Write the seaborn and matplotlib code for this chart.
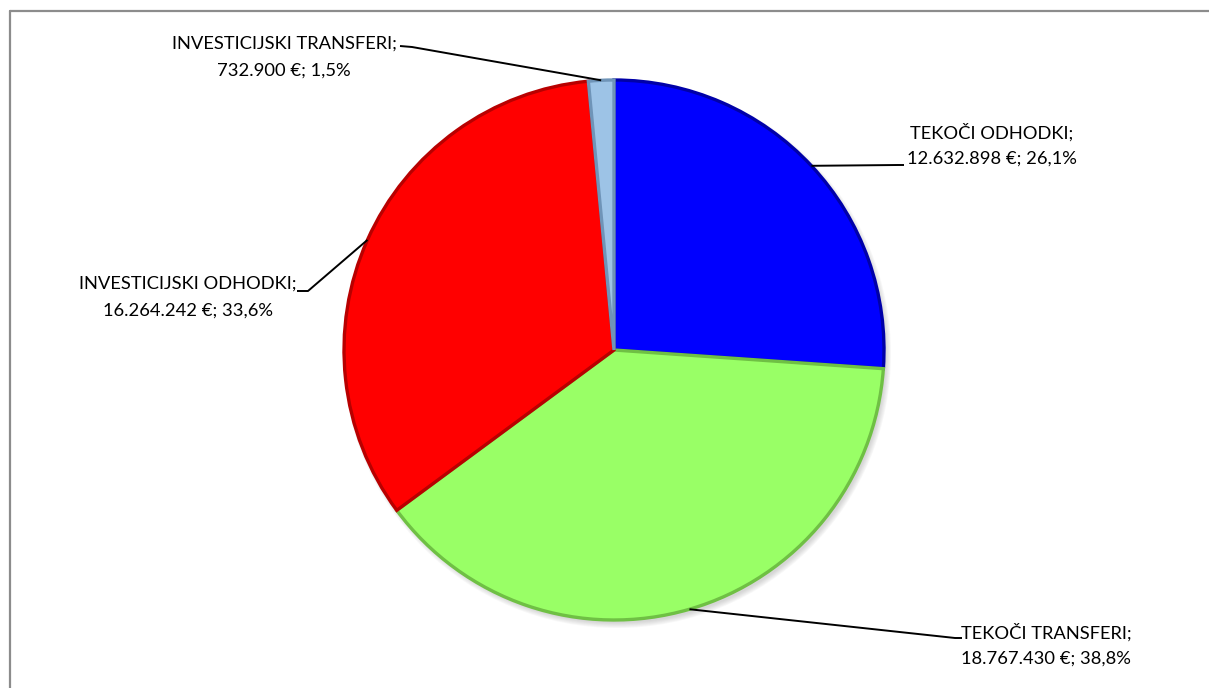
import numpy as np
import matplotlib
matplotlib.use("Agg")
import matplotlib.pyplot as plt
import seaborn as sns
from matplotlib.patches import Circle

# ---- data ----
categories = ["TEKOČI ODHODKI", "TEKOČI TRANSFERI", "INVESTICIJSKI ODHODKI", "INVESTICIJSKI TRANSFERI"]
values = [12632898, 18767430, 16264242, 732900]
value_labels = ["12.632.898 €", "18.767.430 €", "16.264.242 €", "732.900 €"]
percent_labels = ["26,1%", "38,8%", "33,6%", "1,5%"]
colors = ["#0000FF", "#99FF66", "#FF0000", "#9DC3E6"]
edge_colors = ["#0000A8", "#6FC044", "#B80000", "#6F94B8"]

sns.set_theme(style="white")
plt.rcParams['font.family'] = ['Lato', 'DejaVu Sans']

W, H = 1209, 688
fig = plt.figure(figsize=(W / 100, H / 100), dpi=100)
ax = fig.add_axes([0, 0, 1, 1])

def py(y):
    return H - y

cx, cy, r = 614, py(350), 270

# soft drop shadow
for k in range(6):
    ax.add_patch(Circle((cx + 3, cy - 4), r + 4 - k, color="#808080",
                        alpha=0.06, lw=0, zorder=0))

wedges, _ = ax.pie(values, colors=colors, startangle=90, counterclock=False,
                   center=(cx, cy), radius=r, frame=True,
                   wedgeprops=dict(linewidth=2.4, zorder=1))
for w, ec in zip(wedges, edge_colors):
    w.set_edgecolor(ec)
    w.set_zorder(1)
ax.set_xlim(0, W)
ax.set_ylim(0, H)
ax.set_aspect("equal")
ax.axis("off")

# frame (cropped at right/bottom)
ax.plot([10, 10], [py(690), py(11)], color="#8c8c8c", lw=1.6, clip_on=False)
ax.plot([10, 1212], [py(11), py(11)], color="#8c8c8c", lw=1.6, clip_on=False)

# label layout: text center x, first-line center y, stub segment
layout = {
    0: dict(tx=992, ty=132, stub=[(898, 165), (904, 165)]),
    1: dict(tx=1046, ty=632, stub=[(955, 638), (962, 638)]),
    2: dict(tx=188, ty=284, stub=[(308, 291), (297, 291)]),
    3: dict(tx=284, ty=44, stub=[(412, 47), (400, 46)]),
}

fs = 13.2
for i, w in enumerate(wedges):
    ang = np.deg2rad((w.theta1 + w.theta2) / 2)
    px_, py_ = cx + r * np.cos(ang), cy + r * np.sin(ang)
    L = layout[i]
    (sx, sy), (ex, ey) = L["stub"]
    ax.plot([px_, sx, ex], [py_, py(sy), py(ey)], color="black", lw=1.4,
            solid_capstyle="butt", zorder=5)
    ax.text(L["tx"], py(L["ty"]), categories[i] + ";", ha="center", va="center",
            fontsize=fs, color="black")
    ax.text(L["tx"], py(L["ty"] + 27), f"{value_labels[i]}; {percent_labels[i]}",
            ha="center", va="center", fontsize=fs, color="black")

fig.savefig("out.png", dpi=100, facecolor="white")
